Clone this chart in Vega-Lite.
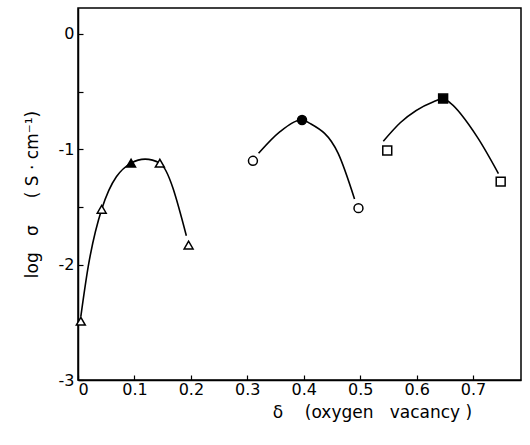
{
  "$schema": "https://vega.github.io/schema/vega-lite/v6.json",
  "width": 443,
  "height": 372,
  "autosize": {"type": "none"},
  "padding": {"left": 78, "top": 8, "right": 9, "bottom": 65},
  "background": "white",
  "config": {
    "view": {"stroke": "black", "strokeWidth": 1.5},
    "font": "DejaVu Sans",
    "axis": {
      "domainColor": "black", "domainWidth": 1.5, "tickColor": "black", "tickWidth": 1.2,
      "labelColor": "black", "titleColor": "black", "grid": false,
      "labelFont": "DejaVu Sans", "titleFont": "DejaVu Sans",
      "labelFontSize": 16, "titleFontSize": 17, "titleFontWeight": "normal"
    }
  },
  "datasets": {
    "points": [
      {"delta": 0.005, "logsigma": -2.49, "series": "tri", "filled": "no"},
      {"delta": 0.042, "logsigma": -1.52, "series": "tri", "filled": "no"},
      {"delta": 0.094, "logsigma": -1.12, "series": "tri", "filled": "yes"},
      {"delta": 0.145, "logsigma": -1.12, "series": "tri", "filled": "no"},
      {"delta": 0.196, "logsigma": -1.83, "series": "tri", "filled": "no"},
      {"delta": 0.31, "logsigma": -1.1, "series": "circ", "filled": "no"},
      {"delta": 0.397, "logsigma": -0.746, "series": "circ", "filled": "yes"},
      {"delta": 0.497, "logsigma": -1.51, "series": "circ", "filled": "no"},
      {"delta": 0.548, "logsigma": -1.01, "series": "sq", "filled": "no"},
      {"delta": 0.647, "logsigma": -0.56, "series": "sq", "filled": "yes"},
      {"delta": 0.749, "logsigma": -1.28, "series": "sq", "filled": "no"}
    ],
    "curves": [
      {"delta": 0.005, "logsigma": -2.45, "series": "tri", "order": 1},
      {"delta": 0.018, "logsigma": -2.02, "series": "tri", "order": 2},
      {"delta": 0.042, "logsigma": -1.52, "series": "tri", "order": 3},
      {"delta": 0.094, "logsigma": -1.12, "series": "tri", "order": 4},
      {"delta": 0.119, "logsigma": -1.085, "series": "tri", "order": 5},
      {"delta": 0.145, "logsigma": -1.12, "series": "tri", "order": 6},
      {"delta": 0.192, "logsigma": -1.75, "series": "tri", "order": 7},
      {"delta": 0.32, "logsigma": -1.035, "series": "circ", "order": 1},
      {"delta": 0.358, "logsigma": -0.847, "series": "circ", "order": 2},
      {"delta": 0.397, "logsigma": -0.746, "series": "circ", "order": 3},
      {"delta": 0.411, "logsigma": -0.775, "series": "circ", "order": 4},
      {"delta": 0.461, "logsigma": -1.035, "series": "circ", "order": 5},
      {"delta": 0.49, "logsigma": -1.43, "series": "circ", "order": 6},
      {"delta": 0.541, "logsigma": -0.93, "series": "sq", "order": 1},
      {"delta": 0.571, "logsigma": -0.77, "series": "sq", "order": 2},
      {"delta": 0.63, "logsigma": -0.587, "series": "sq", "order": 3},
      {"delta": 0.647, "logsigma": -0.56, "series": "sq", "order": 4},
      {"delta": 0.66, "logsigma": -0.6, "series": "sq", "order": 5},
      {"delta": 0.707, "logsigma": -0.89, "series": "sq", "order": 6},
      {"delta": 0.745, "logsigma": -1.21, "series": "sq", "order": 7}
    ]
  },
  "layer": [
    {
      "data": {"name": "curves"},
      "mark": {"type": "line", "color": "black", "strokeWidth": 1.6, "interpolate": "monotone"},
      "encoding": {
        "x": {"field": "delta", "type": "quantitative",
          "scale": {"domain": [0, 0.785], "nice": false, "zero": false},
          "axis": {"values": [0, 0.1, 0.2, 0.3, 0.4, 0.5, 0.6, 0.7], "tickSize": -5, "labelPadding": 6,
            "labelExpr": "datum.value == 0 ? '0' : format(datum.value, '.1f')",
            "title": "δ\u00a0\u00a0\u00a0\u00a0(oxygen\u00a0\u00a0\u00a0vacancy\u00a0)", "titlePadding": 7, "titleX": 294, "titleAnchor": "middle"}},
        "y": {"field": "logsigma", "type": "quantitative",
          "scale": {"domain": [-3, 0.225], "nice": false, "zero": false},
          "axis": {"values": [-3, -2.5, -2, -1.5, -1, -0.5, 0], "tickSize": -5, "labelPadding": 9,
            "labelExpr": "datum.value % 1 == 0 ? (datum.value == 0 ? '0' : '-' + abs(datum.value)) : ''",
            "title": "log\u00a0\u00a0\u00a0σ\u00a0\u00a0\u00a0\u00a0\u00a0(\u00a0S\u00a0·\u00a0cm⁻¹)", "titlePadding": 17}},
        "detail": {"field": "series"},
        "order": {"field": "order"}
      }
    },
    {
      "data": {"name": "points"},
      "mark": {"type": "point", "stroke": "black", "strokeWidth": 1.5, "opacity": 1, "filled": false},
      "encoding": {
        "x": {"field": "delta", "type": "quantitative"},
        "y": {"field": "logsigma", "type": "quantitative"},
        "shape": {"field": "series", "type": "nominal",
          "scale": {"domain": ["tri", "circ", "sq"], "range": ["triangle-up", "circle", "square"]}, "legend": null},
        "fill": {"field": "filled", "type": "nominal",
          "scale": {"domain": ["yes", "no"], "range": ["black", "white"]}, "legend": null},
        "size": {"value": 80}
      }
    }
  ]
}
